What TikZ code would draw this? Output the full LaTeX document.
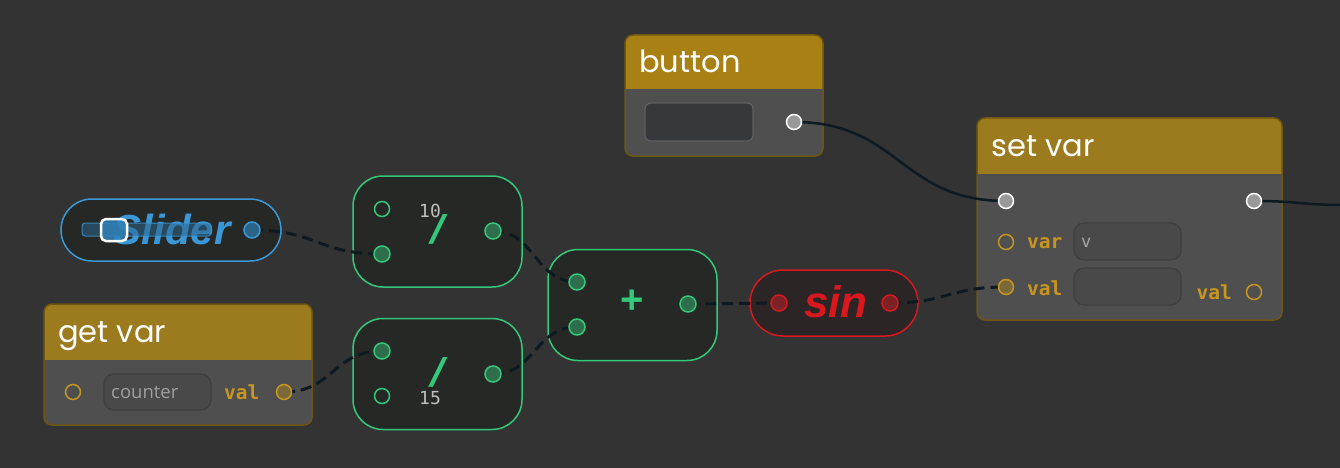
\documentclass[tikz,border=0pt]{standalone}
\usepackage{fontspec}
\setmainfont{Liberation Sans}
\newfontfamily\popp{Poppins}
\newfontfamily\monof{DejaVu Sans Mono}
\newfontfamily\uif{Open Sans}
\pgfdeclarelayer{fg}
\pgfsetlayers{main,fg}
\definecolor{bg}{HTML}{333333}
\definecolor{hdrA}{HTML}{A98014}
\definecolor{hdrB}{HTML}{9C7B1F}
\definecolor{bodyc}{HTML}{4F4F4F}
\definecolor{gborder}{HTML}{6E5512}
\definecolor{gtext}{HTML}{C8961E}
\definecolor{gfill}{HTML}{7A6A38}
\definecolor{grn}{HTML}{34C97A}
\definecolor{grnfill}{HTML}{2E6E4C}
\definecolor{opfill}{HTML}{262826}
\definecolor{blu}{HTML}{3A98D8}
\definecolor{blufill}{HTML}{2C6488}
\definecolor{redc}{HTML}{D8181E}
\definecolor{redfill}{HTML}{7A2226}
\definecolor{sinfill}{HTML}{2B2526}
\definecolor{btnfill}{HTML}{37383C}
\definecolor{btnedge}{HTML}{5E5E5E}
\definecolor{wire}{HTML}{0E1A20}
\tikzset{
  port/.style={circle, minimum size=15, inner sep=0pt, line width=1.5},
  wport/.style={port, fill=black!40!white, draw=white},
  gport/.style={port, minimum size=16, fill=grnfill, draw=grn},
  gopen/.style={port, draw=grn},
  yopen/.style={port, draw=gtext},
  yfill/.style={port, fill=gfill, draw=gtext},
  bport/.style={port, minimum size=16, fill=blufill, draw=blu},
  rport/.style={port, minimum size=16, fill=redfill, draw=redc},
  wiredash/.style={draw=wire, line width=3, dash pattern=on 11pt off 6pt},
  wiresolid/.style={draw=wire, line width=2.5},
  title/.style={text=white, font=\popp\fontsize{30.5}{32}\selectfont, inner sep=0pt, anchor=base west},
  lbl/.style={text=gtext, font=\monof\bfseries\fontsize{19.5}{21}\selectfont, inner sep=0pt},
  field/.style={rounded corners=10, draw=black!20!bodyc, fill=black!8!bodyc, line width=1.2, inner sep=0pt},
  opnode/.style={rounded corners=30, draw=grn, fill=opfill, line width=1.5, inner sep=0pt, minimum width=169, minimum height=111},
  optext/.style={text=grn, font=\bfseries\fontsize{40}{42}\selectfont, inner sep=0pt},
  slashtext/.style={optext, xslant=0.3, transform shape},
  numtext/.style={text=black!25!white, font=\monof\fontsize{18}{19}\selectfont, inner sep=0pt},
}
\newcommand\hdrbox[6]{%
  \fill[bodyc, rounded corners=8] (#1,#2) rectangle (#3,#4);
  \begin{scope}
    \clip (#1,#2) rectangle (#3,#5);
    \fill[#6, rounded corners=8] (#1,#2) rectangle (#3,#4);
  \end{scope}
  \draw[gborder, line width=1.5, rounded corners=8] (#1,#2) rectangle (#3,#4);
}
\begin{document}
\begin{tikzpicture}[x=1pt, y=-1pt]
\fill[bg] (0,0) rectangle (1340,468);
\useasboundingbox (0,0) rectangle (1340,468);

% ---------- ports (foreground layer) ----------
\begin{pgfonlayer}{fg}
\node[wport] (bout) at (794,122) {};
\node[wport] (svin) at (1006,201) {};
\node[wport] (svout) at (1254,201) {};
\node[yopen] (svvar) at (1006,242) {};
\node[yfill] (svval) at (1006,287) {};
\node[yopen] (svvalout) at (1254,292) {};
\node[yopen] (gvin) at (73,392) {};
\node[yfill] (gvout) at (284,392) {};
\node[bport] (slout) at (252,230) {};
\node[gopen] (d1a) at (382,209) {};
\node[gport] (d1b) at (382,254) {};
\node[gport] (d1out) at (493,231) {};
\node[gport] (d2a) at (382,351) {};
\node[gopen] (d2b) at (382,396) {};
\node[gport] (d2out) at (493,374) {};
\node[gport] (pa) at (577,282) {};
\node[gport] (pb) at (577,327) {};
\node[gport] (pout) at (688,304) {};
\node[rport] (sin) at (779,303) {};
\node[rport] (sout) at (890,303) {};
\end{pgfonlayer}

% ---------- button ----------
\hdrbox{625}{35}{823}{156}{89}{hdrA}
\node[title] (tb) at (639,73) {button};
\node[rounded corners=6, draw=btnedge, fill=btnfill, line width=1.2, minimum width=108, minimum height=38, inner sep=0pt] (bfield) at (699,122) {};

% ---------- set var ----------
\hdrbox{977}{118}{1282}{320}{173}{hdrB}
\node[title] (tsv) at (991,157) {set var};
\node[lbl, anchor=west] (lvar) at (1027,243) {var};
\node[lbl, anchor=west] (lval) at (1027,288) {val};
\node[lbl, anchor=east] (lvalo) at (1232,292) {val};
\node[field, minimum width=107, minimum height=37] (fvar) at (1127.5,241.5) {};
\node[text=black!35!white, font=\monof\fontsize{17}{18}\selectfont, anchor=west, inner sep=0pt] (vv) at (1081,243) {v};
\node[field, minimum width=107, minimum height=37] (fval) at (1127.5,286.5) {};

% ---------- get var ----------
\hdrbox{44}{304}{312}{425}{359}{hdrB}
\node[title] (tgv) at (58,342) {get var};
\node[field, minimum width=107, minimum height=36] (fcnt) at (157.5,392) {};
\node[text=black!38!white, font=\uif\fontsize{18.5}{19}\selectfont, anchor=west, inner sep=0pt] (cnt) at (111,392) {counter};
\node[lbl, anchor=west] (lgv) at (224,392) {val};

% ---------- slider ----------
\node[rounded corners=31, draw=blu, fill=opfill, line width=1.5, minimum width=220, minimum height=62, inner sep=0pt] (slider) at (171,230) {};
\node[text=blu, font=\bfseries\itshape\fontsize{42}{44}\selectfont, inner sep=0pt] (sltxt) at (172,229) {Slider};
\fill[blufill, opacity=0.55, rounded corners=3] (82,223) rectangle (211,236);
\draw[blu, line width=1, opacity=0.8, rounded corners=3] (82,223) rectangle (211,236);
\draw[white, fill=blu!85!black, fill opacity=0.85, line width=2.5, rounded corners=5] (101,219) rectangle (127,241);

% ---------- division nodes ----------
\node[opnode] (div1) at (437.5,231.5) {};
\node[slashtext] (sl1) at (438,229) {/};
\node[numtext] (n10) at (430,211) {10};
\node[opnode] (div2) at (437.5,374) {};
\node[slashtext] (sl2) at (438,372) {/};
\node[numtext] (n15) at (430,398) {15};

% ---------- plus ----------
\node[opnode] (plus) at (632.5,305) {};
\node[optext] (pl) at (632,302) {+};

% ---------- sin ----------
\node[rounded corners=33, draw=redc, fill=sinfill, line width=1.5, minimum width=168, minimum height=66, inner sep=0pt] (sinnode) at (834,303) {};
\node[text=redc, font=\bfseries\itshape\fontsize{44}{46}\selectfont, inner sep=0pt] (sintxt) at (836,302) {sin};

% ---------- connectors ----------
\coordinate (offright) at (1345,205);
\draw[wiresolid] (bout.center) .. controls (900,122) and (900,201) .. (svin.center);
\draw[wiresolid] (svout.center) .. controls (1300,201) and (1300,205) .. (offright);
\draw[wiredash] (slout.center) .. controls (317,230) and (317,254) .. (d1b.center);
\draw[wiredash] (gvout.center) .. controls (333,392) and (333,351) .. (d2a.center);
\draw[wiredash] (d1out.center) .. controls (535,231) and (535,282) .. (pa.center);
\draw[wiredash] (d2out.center) .. controls (535,374) and (535,327) .. (pb.center);
\draw[wiredash] (pout.center) .. controls (733,304) and (733,303) .. (sin.center);
\draw[wiredash] (sout.center) .. controls (948,303) and (948,287) .. (svval.center);
\end{tikzpicture}
\end{document}
